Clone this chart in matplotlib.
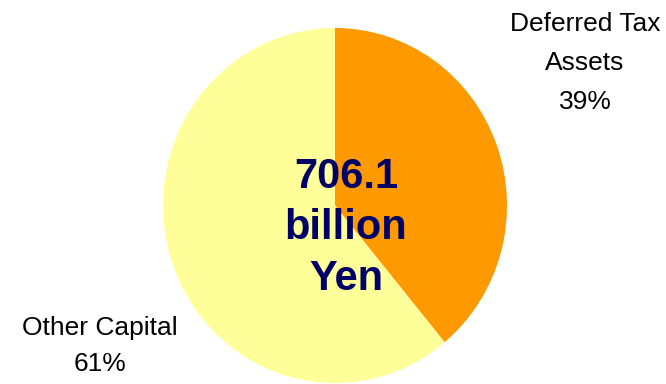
import matplotlib.pyplot as plt
import matplotlib as mpl

# 차트 데이터
labels = ['Deferred Tax\nAssets', 'Other Capital']
shares = [39, 61]
colors = ['#FF9900', '#FFFF99']
center_text = '706.1\nbillion\nYen'

mpl.rcParams['font.family'] = ['Liberation Sans', 'DejaVu Sans']

W, H = 666, 384
fig = plt.figure(figsize=(W / 100, H / 100), dpi=100)

# 파이 영역 (픽셀 기준 bbox: 좌 163, 우 507, 상 28, 하 383)
left, right, top, bottom = 163, 507, 28, 383
ax = fig.add_axes([left / W, 1 - bottom / H, (right - left) / W, (bottom - top) / H])
ax.pie(shares, colors=colors, startangle=90, counterclock=False,
       radius=1, wedgeprops={'linewidth': 0})
ax.set_aspect('auto')
ax.set_xlim(-1, 1)
ax.set_ylim(-1, 1)
ax.axis('off')

# 가운데 합계 텍스트
fig.text(346 / W, 1 - 228 / H, center_text, ha='center', va='center',
         fontsize=30, fontweight='bold', color='#000066', linespacing=1.36)

# 조각 라벨
label_pos = [(585, 63, 1.8), (100, 346, 1.58)]
for lab, val, (px, py, ls) in zip(labels, shares, label_pos):
    fig.text(px / W, 1 - py / H, f'{lab}\n{val}%', ha='center', va='center',
             fontsize=19, color='black', linespacing=ls)

plt.savefig('out.png', dpi=100)
